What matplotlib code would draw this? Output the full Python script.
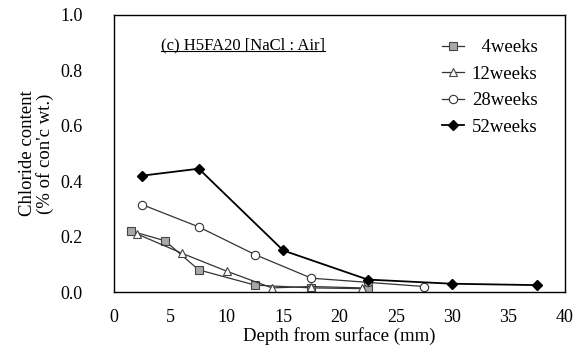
import numpy as np
import matplotlib
matplotlib.use("Agg")
import matplotlib.pyplot as plt

plt.rcParams['font.family'] = ['Liberation Serif', 'DejaVu Serif']

# data (depth in mm, chloride % of concrete wt.)
x_4w = [1.5, 4.5, 7.5, 12.5, 17.5, 22.5]
y_4w = [0.22, 0.185, 0.08, 0.025, 0.015, 0.012]
x_12w = [2.0, 6.0, 10.0, 14.0, 17.5, 22.0]
y_12w = [0.21, 0.14, 0.075, 0.015, 0.02, 0.015]
x_28w = [2.5, 7.5, 12.5, 17.5, 22.5, 27.5]
y_28w = [0.315, 0.235, 0.135, 0.05, 0.035, 0.02]
x_52w = [2.5, 7.5, 15.0, 22.5, 30.0, 37.5]
y_52w = [0.42, 0.445, 0.15, 0.045, 0.03, 0.025]

fig = plt.figure(figsize=(5.77, 3.54), dpi=100)
ax = fig.add_axes([0.198, 0.175, 0.781, 0.783])

ax.plot(x_4w, y_4w, '-s', color='#333333', lw=0.9, ms=6,
        mfc='#a8a8a8', mec='#444444', mew=0.8, label='  4weeks')
ax.plot(x_12w, y_12w, '-^', color='#333333', lw=0.9, ms=6,
        mfc='white', mec='#444444', mew=0.8, label='12weeks')
ax.plot(x_28w, y_28w, '-o', color='#333333', lw=0.9, ms=6,
        mfc='white', mec='#333333', mew=0.8, label='28weeks')
ax.plot(x_52w, y_52w, '-D', color='black', lw=1.3, ms=5,
        mfc='black', mec='black', label='52weeks')

ax.set_xlim(0, 40)
ax.set_ylim(0, 1.0)
ax.set_xticks(np.arange(0, 41, 5))
ax.set_yticks(np.arange(0, 1.01, 0.2))
ax.set_yticklabels([f"{v:.1f}" for v in np.arange(0, 1.01, 0.2)])
ax.tick_params(axis='both', length=0, labelsize=13)
ax.tick_params(axis='y', pad=23)
ax.tick_params(axis='x', pad=12)
for s in ax.spines.values():
    s.set_linewidth(1.0)

ax.set_xlabel("Depth from surface (mm)", fontsize=13.5, labelpad=1)
ax.set_ylabel("Chloride content\n(% of con'c wt.)", fontsize=13.5, labelpad=4,
              linespacing=1.0)

t = ax.text(0.103, 0.875, "(c) H5FA20 [NaCl : Air]", transform=ax.transAxes,
            fontsize=12, ha='left', va='baseline')
fig.canvas.draw()
bb = t.get_window_extent().transformed(ax.transAxes.inverted())
ax.plot([bb.x0, bb.x1], [0.868, 0.868], color='black', lw=0.8,
        transform=ax.transAxes, clip_on=False)

ax.legend(loc='upper left', bbox_to_anchor=(0.71, 0.94), frameon=False,
          fontsize=13.5, handlelength=1.2, handletextpad=0.4, labelspacing=0.5,
          borderaxespad=0)

fig.savefig("out.png", dpi=100)
